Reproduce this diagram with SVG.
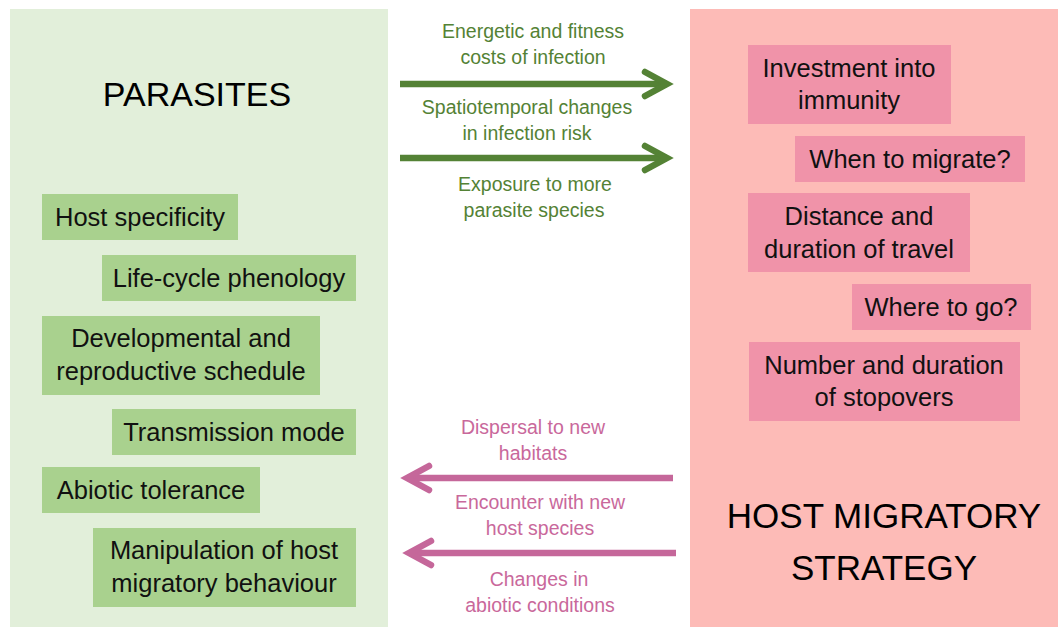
<svg xmlns="http://www.w3.org/2000/svg" width="1058" height="627" viewBox="0 0 1058 627">
  <defs>
    <style>
      text { font-family: "Liberation Sans", Arial, sans-serif; text-anchor: middle; }
      .title { font-size: 34px; fill: #000; }
      .title-l { font-size: 35px; fill: #000; }
      .item { font-size: 25.5px; fill: #111; }
      .gbox { fill: #a9d18e; }
      .pbox { fill: #f093a9; }
      .glab { font-size: 19.5px; fill: #548235; }
      .plab { font-size: 19.5px; fill: #c9689b; }
      .garrow { stroke: #548235; stroke-width: 6.5; fill: none; }
      .parrow { stroke: #c5679a; stroke-width: 6.5; fill: none; }
    </style>
    <marker id="chev-g" markerUnits="userSpaceOnUse" viewBox="-30 -18 40 36" markerWidth="40" markerHeight="36" refX="0" refY="0" orient="auto">
      <path d="M-22,-12 L0,0 L-22,12" fill="none" stroke="#548235" stroke-width="6.5" stroke-linecap="round"/>
    </marker>
    <marker id="chev-p" markerUnits="userSpaceOnUse" viewBox="-30 -18 40 36" markerWidth="40" markerHeight="36" refX="0" refY="0" orient="auto">
      <path d="M-22,-12 L0,0 L-22,12" fill="none" stroke="#c5679a" stroke-width="6.5" stroke-linecap="round"/>
    </marker>
  </defs>

  <rect width="1058" height="627" fill="#ffffff"/>

  <!-- Parasites panel -->
  <g id="parasites">
    <rect x="10" y="9" width="378" height="618" fill="#e2efda"/>
    <text class="title" x="197" y="106">PARASITES</text>
  </g>
  <g id="host-specificity">
    <rect class="gbox" x="42" y="194" width="196" height="46"/>
    <text class="item" x="140" y="226">Host specificity</text>
  </g>
  <g id="life-cycle">
    <rect class="gbox" x="102" y="255" width="254" height="46"/>
    <text class="item" x="229" y="287">Life-cycle phenology</text>
  </g>
  <g id="developmental">
    <rect class="gbox" x="42" y="316" width="278" height="79"/>
    <text class="item" x="181" y="347">Developmental and</text>
    <text class="item" x="181" y="380">reproductive schedule</text>
  </g>
  <g id="transmission">
    <rect class="gbox" x="112" y="409" width="244" height="46"/>
    <text class="item" x="234" y="441">Transmission mode</text>
  </g>
  <g id="abiotic">
    <rect class="gbox" x="42" y="467" width="218" height="46"/>
    <text class="item" x="151" y="499">Abiotic tolerance</text>
  </g>
  <g id="manipulation">
    <rect class="gbox" x="93" y="528" width="263" height="79"/>
    <text class="item" x="224" y="559">Manipulation of host</text>
    <text class="item" x="224" y="592">migratory behaviour</text>
  </g>

  <!-- Host migratory strategy panel -->
  <g id="host-strategy">
    <rect x="690" y="9" width="368" height="618" fill="#fdbbb7"/>
    <text class="title-l" x="884" y="528">HOST MIGRATORY</text>
    <text class="title-l" x="884" y="580">STRATEGY</text>
  </g>
  <g id="immunity">
    <rect class="pbox" x="748" y="45" width="203" height="79"/>
    <text class="item" x="849" y="77">Investment into</text>
    <text class="item" x="849" y="109">immunity</text>
  </g>
  <g id="when">
    <rect class="pbox" x="795" y="136" width="230" height="46"/>
    <text class="item" x="910" y="168">When to migrate?</text>
  </g>
  <g id="distance">
    <rect class="pbox" x="748" y="193" width="222" height="79"/>
    <text class="item" x="859" y="225">Distance and</text>
    <text class="item" x="859" y="258">duration of travel</text>
  </g>
  <g id="where">
    <rect class="pbox" x="852" y="284" width="179" height="46"/>
    <text class="item" x="941" y="316">Where to go?</text>
  </g>
  <g id="stopovers">
    <rect class="pbox" x="749" y="342" width="271" height="79"/>
    <text class="item" x="884" y="374">Number and duration</text>
    <text class="item" x="884" y="406">of stopovers</text>
  </g>

  <!-- Connectors between the two panels -->
  <g id="connectors">
    <line class="garrow" x1="400" y1="84" x2="667" y2="84" marker-end="url(#chev-g)"/>
    <line class="garrow" x1="400" y1="158" x2="667" y2="158" marker-end="url(#chev-g)"/>
    <line class="parrow" x1="673" y1="478" x2="407" y2="478" marker-end="url(#chev-p)"/>
    <line class="parrow" x1="676" y1="553" x2="409" y2="553" marker-end="url(#chev-p)"/>

    <text class="glab" x="533" y="38">Energetic and fitness</text>
    <text class="glab" x="533" y="64">costs of infection</text>
    <text class="glab" x="527" y="114">Spatiotemporal changes</text>
    <text class="glab" x="527" y="140">in infection risk</text>
    <text class="glab" x="535" y="191">Exposure to more</text>
    <text class="glab" x="534" y="217">parasite species</text>

    <text class="plab" x="533" y="434">Dispersal to new</text>
    <text class="plab" x="533" y="460">habitats</text>
    <text class="plab" x="540" y="509">Encounter with new</text>
    <text class="plab" x="540" y="535">host species</text>
    <text class="plab" x="539" y="586">Changes in</text>
    <text class="plab" x="540" y="612">abiotic conditions</text>
  </g>
</svg>
